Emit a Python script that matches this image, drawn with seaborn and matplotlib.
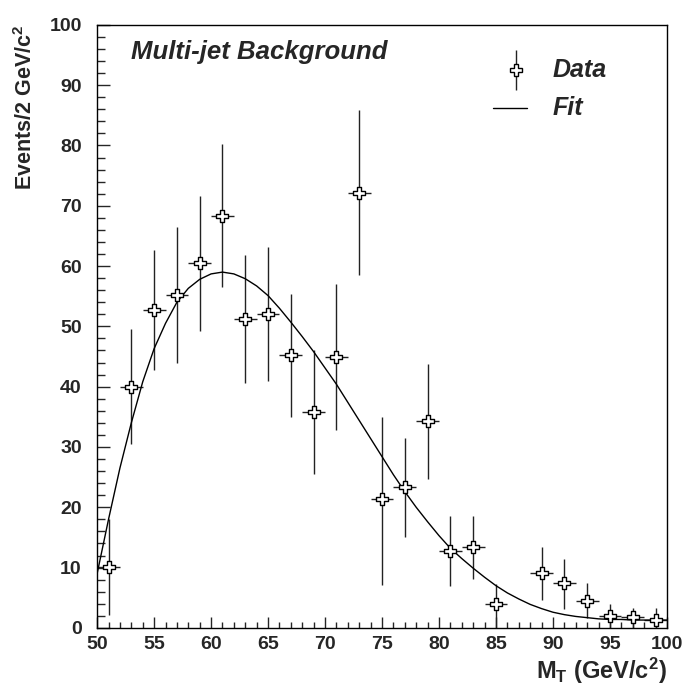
import numpy as np
import pandas as pd
import matplotlib
matplotlib.use("Agg")
import matplotlib.pyplot as plt
import seaborn as sns
from matplotlib.ticker import MultipleLocator

# ---- data ----
mt = [51, 53, 55, 57, 59, 61, 63, 65, 67, 69, 71, 73, 75, 77, 79, 81, 83, 85, 89, 91, 93, 95, 97, 99]
events = [10.1, 40.0, 52.7, 55.2, 60.5, 68.3, 51.2, 52.1, 45.3, 35.8, 45.0, 72.1, 21.4, 23.4,
          34.3, 12.8, 13.4, 4.0, 9.1, 7.5, 4.5, 2.0, 1.8, 1.3]
err_hi = [8.0, 9.5, 10.0, 11.3, 11.1, 12.0, 10.7, 11.1, 10.1, 10.2, 12.0, 13.8, 13.6, 8.1,
          9.5, 5.8, 5.2, 3.3, 4.3, 3.9, 3.0, 2.0, 1.5, 2.0]
err_lo = [8.0, 9.5, 10.0, 11.2, 11.2, 11.8, 10.6, 11.1, 10.3, 10.3, 12.2, 13.6, 14.3, 8.4,
          9.6, 5.8, 5.3, 4.0, 4.5, 4.3, 2.8, 2.0, 1.8, 1.3]
bin_half = [1.0] * len(mt)

fit_x = list(range(50, 101))
fit_y = [9.0, 18.0, 26.5, 34.0, 40.8, 46.3, 50.5, 54.0, 56.3, 57.8, 58.7, 59.0, 58.7, 57.9,
         56.7, 55.1, 53.0, 50.7, 48.3, 45.8, 43.1, 40.4, 37.4, 34.4, 31.4, 28.4, 25.4, 22.6,
         20.0, 17.6, 15.3, 13.2, 11.5, 9.9, 8.4, 7.0, 5.8, 4.8, 3.9, 3.2, 2.6, 2.2, 1.9, 1.7,
         1.5, 1.4, 1.4, 1.3, 1.3, 1.3, 1.3]

x_ticks = [50, 55, 60, 65, 70, 75, 80, 85, 90, 95, 100]
y_ticks = [0, 10, 20, 30, 40, 50, 60, 70, 80, 90, 100]

sns.set_theme(style="white")
plt.rcParams['font.family'] = ['Liberation Sans', 'DejaVu Sans']
plt.rcParams['mathtext.fontset'] = 'custom'
plt.rcParams['mathtext.rm'] = 'Liberation Sans:bold'
plt.rcParams['mathtext.it'] = 'Liberation Sans:bold:italic'
plt.rcParams['mathtext.bf'] = 'Liberation Sans:bold'

df = pd.DataFrame({"mt": mt, "events": events})
fit_df = pd.DataFrame({"x": fit_x, "y": fit_y})

fig = plt.figure(figsize=(6.84, 6.90), dpi=100)
ax = fig.add_axes([0.142, 0.090, 0.833, 0.874])

ax.errorbar(mt, events, yerr=[err_lo, err_hi], xerr=bin_half, fmt='none',
            ecolor='#222222', elinewidth=1.0, capsize=0, zorder=2)
sns.lineplot(data=fit_df, x="x", y="y", ax=ax, color='black', linewidth=1.0, zorder=3)
sns.scatterplot(data=df, x="mt", y="events", ax=ax, marker='P', s=80,
                facecolor='white', edgecolor='black', linewidth=1.0, zorder=4)

ax.set_xlim(50, 100)
ax.set_ylim(0, 100)
ax.set_xticks(x_ticks)
ax.set_yticks(y_ticks)
ax.xaxis.set_minor_locator(MultipleLocator(1))
ax.yaxis.set_minor_locator(MultipleLocator(2))
ax.tick_params(which='both', direction='in', width=1, labelsize=14,
               bottom=True, left=True, top=False, right=False)
ax.tick_params(axis='x', which='major', length=8, pad=6)
ax.tick_params(axis='x', which='minor', length=4)
ax.tick_params(axis='y', which='major', length=9, pad=11)
ax.tick_params(axis='y', which='minor', length=5.5)
for lab in ax.get_xticklabels() + ax.get_yticklabels():
    lab.set_fontweight('bold')
for s in ax.spines.values():
    s.set_color('black')
    s.set_linewidth(1.0)

ax.set_xlabel(r"M$_\mathregular{T}$ (GeV/c$^\mathregular{2}$)", fontsize=17, fontweight='bold')
ax.xaxis.set_label_coords(1.0, -0.046)
ax.xaxis.label.set_horizontalalignment('right')
ax.xaxis.label.set_verticalalignment('top')
ax.set_ylabel(r"Events/2 GeV/c$^\mathregular{2}$", fontsize=15.5, fontweight='bold')
ax.yaxis.set_label_coords(-0.105, 1.0)
ax.yaxis.label.set_horizontalalignment('right')

ax.text(0.06, 0.975, "Multi-jet Background", transform=ax.transAxes, fontsize=18.5,
        fontweight='bold', fontstyle='italic', va='top', ha='left')

# legend
ax.errorbar([0.735], [0.925], yerr=[[0.033], [0.033]], transform=ax.transAxes, fmt='P',
            markersize=9, markerfacecolor='white', markeredgecolor='black',
            ecolor='#222222', elinewidth=1.0, clip_on=False)
ax.plot([0.695, 0.755], [0.862, 0.862], transform=ax.transAxes, color='black', linewidth=1.0)
ax.text(0.80, 0.925, "Data", transform=ax.transAxes, fontsize=18, fontweight='bold',
        fontstyle='italic', va='center', ha='left')
ax.text(0.80, 0.862, "Fit", transform=ax.transAxes, fontsize=18, fontweight='bold',
        fontstyle='italic', va='center', ha='left')

fig.savefig("out.png", dpi=100)
